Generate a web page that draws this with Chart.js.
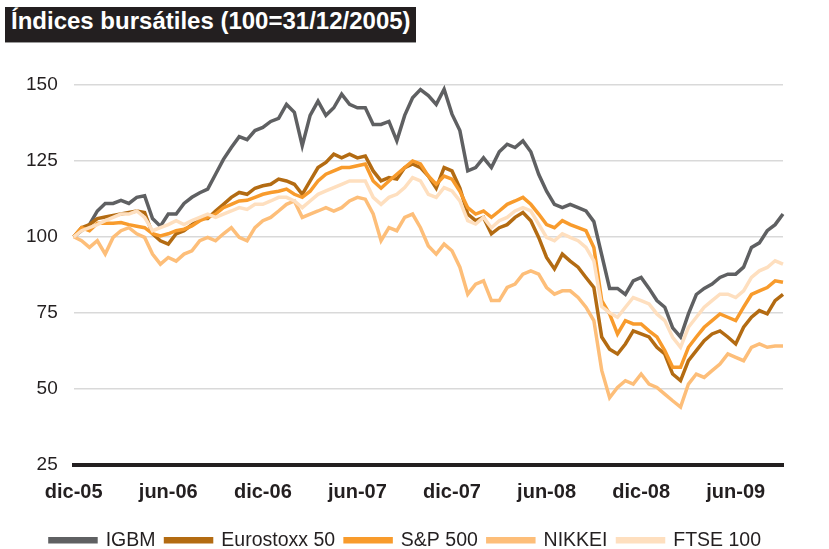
<!DOCTYPE html>
<html>
<head>
<meta charset="utf-8">
<script src="https://cdn.jsdelivr.net/npm/chart.js@4.4.1/dist/chart.umd.min.js"></script>
<style>
  body { margin:0; background:#fff; overflow:hidden; }
  #wrap { position:relative; width:829px; height:549px; }
  #titulo {
    position:absolute; left:5px; top:7px; height:35px; line-height:36px;
    padding:0 5px 0 6px; background:#231f20; color:#fff;
    font:bold 24px "Liberation Sans", Arial, sans-serif;
    border-bottom:1px solid #9a9a9a; z-index:2;
  }
  canvas { position:absolute; left:0; top:0; }
</style>
</head>
<body>
<div id="wrap">
  <div id="titulo">Índices bursátiles (100=31/12/2005)</div>
  <canvas id="grafico" width="829" height="549"></canvas>
</div>
<script>
// dos puntos por mes, desde 31/12/2005
const etiquetasEje = ['dic-05','jun-06','dic-06','jun-07','dic-07','jun-08','dic-08','jun-09'];
const puntosPorEtiqueta = 12;

const igbm = [100,102,104,108.5,111,111,112,111,113,113.5,106,103.5,107.5,107.5,111,113,114.5,115.7,120.6,125.5,
  129.4,133,132,135,136,138,139,143.6,141,130,140,144.7,140,142.5,147,143.6,142.5,142.5,137,137,
  138,131.6,140,145.8,148.5,146.5,143.6,148.6,140.4,135,121.7,122.8,126,122.8,128,130.5,129.4,131.6,128,120.6,
  115,110.7,109.6,110.7,109.6,108.5,105,94,83,83,81,85.5,86.6,83,79,76.8,70,67,74.6,81,
  83,84.4,86.6,87.7,87.7,90,96.5,98,102,104,107.5];

const eurostoxx = [100,103,104,106,106.5,107,107.5,108,108.5,108,101,98.7,97.6,101,102,104,106,106,108.5,110.7,
  113,114.6,114,116,116.8,117.3,119,118.4,117.3,114,118.4,122.8,124.5,127.2,126,127.2,126,126.6,121.7,118.4,
  119.5,119,122.8,124,122.8,120,116,122.8,121.7,116,107.5,105.3,106.4,101,103,104,106.4,108,105.3,99.8,
  93.2,89.4,94.3,92,90,86.6,83.3,67,63,61.4,64.7,69,68,67,63.6,61.4,54.8,52.6,59.2,62.5,
  65.8,68,69,67,64.7,70.2,73.5,75.7,74.6,79,81];

const sp500 = [100,103,102,104.5,104.5,104.5,104.7,104,103.5,103,101,100.3,101,102,102.5,103.6,105.3,106.4,107.5,109.6,
  110.7,111.8,112,113,114,114.6,115,115.7,114,113,115,118.4,120.6,121.7,122.8,122.8,123.4,124,118.4,116,
  118.4,120.6,122.8,125,124,120,117.3,120,119,115,109.6,107.5,108.5,106.4,108.5,110.7,111.8,113,110.7,107.5,
  104,103,105.3,104,103,102,96.5,79,74.6,68,72.4,71.3,71.3,69,67,62.5,57,57,63.6,67,
  70.2,72.4,74.6,73.5,72.4,76.8,81,82.2,83.3,85.5,85];

const nikkei = [100,98.7,96.5,98.7,94.3,99.8,102,103,101,99.8,94.3,91,93.2,92,94.3,95.4,98.7,99.8,98.7,101,
  103,99.8,98.7,103,105.3,106.4,108.5,110.7,111.8,106.4,107.5,108.5,109.6,108.5,109.6,111.8,113,112.4,107.5,98.7,
  103,102,106.4,107.5,103,97,94.3,97.6,95.4,90,81.1,84.4,85.5,79,79,83.3,84.4,87.7,88.8,87.7,
  83.3,81.1,82.2,82.2,80,76.8,72.4,56,47,50.4,52.6,51.5,54.8,51.5,50.4,48.2,46,43.9,51.5,54.8,
  53.7,55.9,58.1,61.4,60.3,59.2,63.6,64.7,63.6,64,64];

const ftse = [100,102,103,104,105.3,106.4,107.5,107.5,108.5,106.4,102,103,104,105.3,104,105.3,106.4,107.5,106.4,107.5,
  108.5,109.6,109,110.7,110.7,111.8,113,113,111.8,109.6,111.8,114,115.1,116.2,117.3,118.4,118.4,118.4,113,110.7,
  113,114,116.2,119.5,118.4,114,113,116.2,115.1,111.8,105.3,104.2,106.4,103,105.3,106.4,108.5,109.6,108.5,104.2,
  99.8,98.7,101,99.8,98.7,96.5,92.1,77,75,73.5,76.8,80,79,77.9,74.6,72.4,66.9,63.6,70.2,73.5,
  76.8,79,81.1,81.1,80,82.2,86.6,88.8,89.9,92.1,91];

const etiquetas = igbm.map((v, i) => i % puntosPorEtiqueta === 0 ? etiquetasEje[i / puntosPorEtiqueta] : '');

const fuente = '"Liberation Sans", Arial, sans-serif';

function serie(nombre, datos, color, orden) {
  return {
    label: nombre, data: datos, borderColor: color, backgroundColor: color,
    borderWidth: 3.5, pointRadius: 0, tension: 0, order: orden
  };
}

// baja la leyenda hacia el borde inferior y la centra un poco más a la derecha
const leyendaAbajo = {
  id: 'leyendaAbajo',
  beforeInit(chart) {
    const fitOriginal = chart.legend.fit;
    chart.legend.fit = function () {
      fitOriginal.bind(chart.legend)();
      this.height -= 11;
    };
  },
  afterLayout(chart) {
    chart.legend.left += 18;
  }
};

new Chart(document.getElementById('grafico').getContext('2d'), {
  type: 'line',
  data: {
    labels: etiquetas,
    datasets: [
      serie('IGBM', igbm, '#5f6062', 5),
      serie('Eurostoxx 50', eurostoxx, '#b36b12', 4),
      serie('S&P 500', sp500, '#f89b2c', 3),
      serie('NIKKEI', nikkei, '#fdbe79', 2),
      serie('FTSE 100', ftse, '#fedfbf', 1)
    ]
  },
  plugins: [leyendaAbajo],
  options: {
    responsive: false,
    animation: false,
    layout: { padding: { top: 85, left: 10, right: 46, bottom: 0 } },
    plugins: {
      title: { display: false },
      tooltip: { enabled: false },
      legend: {
        position: 'bottom',
        labels: {
          boxWidth: 46, boxHeight: 3, padding: 10, color: '#231f20',
          font: { family: fuente, size: 19.5 },
          sort: (a, b) => a.datasetIndex - b.datasetIndex
        }
      }
    },
    scales: {
      x: {
        grid: { display: false, drawTicks: false },
        border: { display: true, color: '#231f20', width: 4 },
        ticks: {
          autoSkip: false, maxRotation: 0, padding: 18, color: '#231f20',
          font: { family: fuente, size: 20, weight: 'bold', lineHeight: 1 }
        }
      },
      y: {
        min: 25, max: 150,
        grid: { color: '#d9d9d9', lineWidth: 1.5, drawTicks: false },
        border: { display: false },
        ticks: {
          stepSize: 25, padding: 16, color: '#231f20',
          font: { family: fuente, size: 19 }
        }
      }
    }
  }
});
</script>
</body>
</html>
